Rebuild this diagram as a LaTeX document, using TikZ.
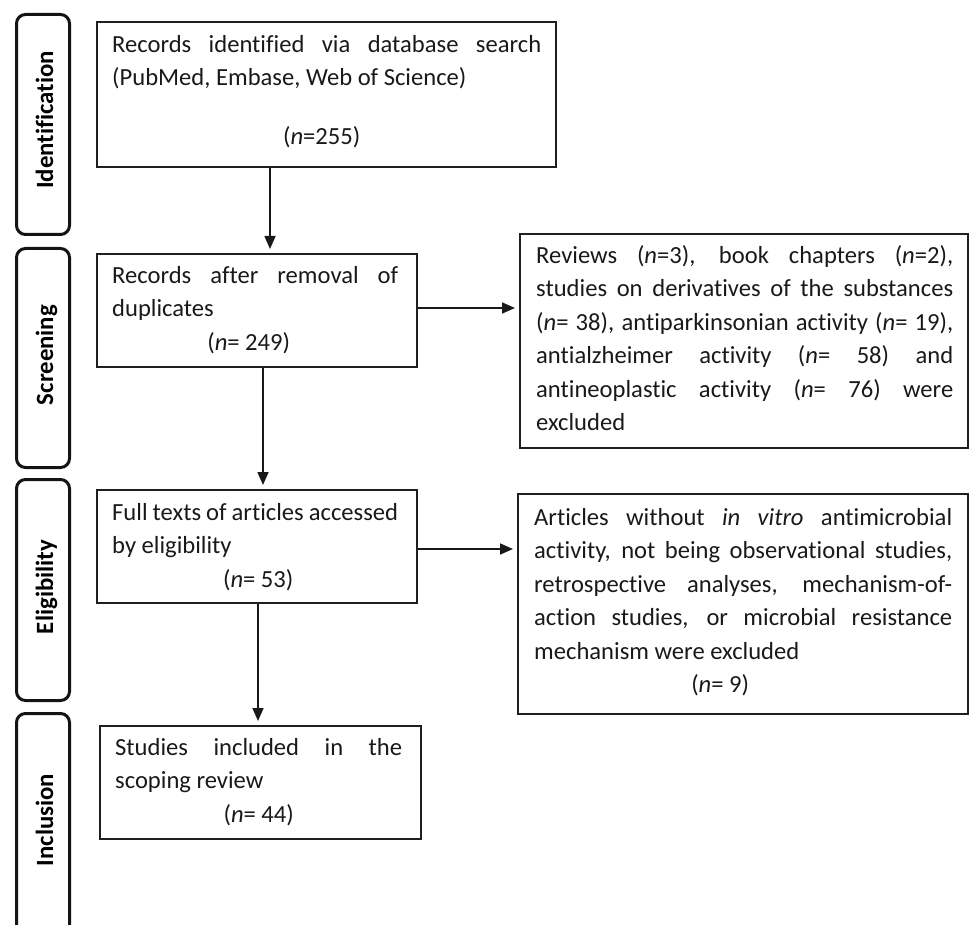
\documentclass[tikz,border=0pt]{standalone}
\usepackage{fontspec}
\setmainfont{Carlito}[Ligatures=NoCommon]
\usetikzlibrary{arrows.meta}
\setlength\parindent{0pt}
\newcommand\nsp{\spaceskip=0pt\xspaceskip=0pt\relax}
\newcommand\jl[2]{\makebox[#1][s]{\spaceskip=0pt\xspaceskip=0pt\relax #2}}
\begin{document}
\begin{tikzpicture}[x=1pt,y=-1pt,
  box/.style={draw=black!88, line width=1.8pt, inner sep=0pt, anchor=north west},
  phase/.style={draw=black!92, line width=3pt, rounded corners=9pt, inner sep=0pt, anchor=north west},
  phaselabel/.style={rotate=90, anchor=base, inner sep=0pt, font=\fontsize{24.8}{30}\selectfont\bfseries},
  txt/.style={anchor=north west, inner sep=0pt, align=left, text=black!90, font=\fontsize{24.6}{33.5}\selectfont},
  arr/.style={draw=black!90, line width=1.6pt, -{Triangle[length=13pt,width=11pt]}, shorten >=4pt},
]
\useasboundingbox (0,0) rectangle (970,925);

% phase boxes
\node[phase, minimum width=53pt, minimum height=220pt] (p1) at (15,13) {};
\node[phase, minimum width=53pt, minimum height=219pt] (p2) at (15,247) {};
\node[phase, minimum width=53pt, minimum height=221pt] (p3) at (15,478) {};
\node[phase, minimum width=53pt, minimum height=260pt] (p4) at (15,712) {};
\node[phaselabel] (l1) at (53,120) {Identification};
\node[phaselabel] (l2) at (53,355) {Screening};
\node[phaselabel] (l3) at (53,587) {Eligibility};
\node[phaselabel] (l4) at (53,820) {Inclusion};

% main boxes
\node[box, minimum width=459pt, minimum height=145pt] (b1) at (96,21) {};
\node[box, minimum width=320pt, minimum height=113pt] (b2) at (96,253) {};
\node[box, minimum width=320pt, minimum height=113pt] (b3) at (96,489) {};
\node[box, minimum width=321pt, minimum height=113pt] (b4) at (99,725) {};
\node[box, minimum width=448pt, minimum height=214pt] (r1) at (519,233) {};
\node[box, minimum width=450pt, minimum height=220pt] (r2) at (517,493) {};

% texts
\node[txt, text width=429pt] (t1) at (112,28.5) {\nsp\strut\jl{429pt}{Records identified via database search}\\
(PubMed, Embase, Web of Science)\\[25.5pt]
\makebox[429pt]{(\textit{n}=255)\hspace*{10pt}}};

\node[txt, text width=286pt] (t2) at (112,259.5) {\nsp\strut\jl{286pt}{Records after removal of}\\
duplicates\\
\makebox[286pt]{\hspace*{-13pt}(\textit{n}= 249)}};

\node[txt, text width=286pt] (t3) at (112,496.5) {\nsp\strut\jl{286pt}{Full texts of articles accessed}\\
by eligibility\\
\makebox[286pt]{\hspace*{6pt}(\textit{n}= 53)}};

\node[txt, text width=287pt] (t4) at (115,731.5) {\nsp\strut\jl{287pt}{Studies included in the}\\
scoping review\\
\makebox[287pt]{(\textit{n}= 44)}};

\node[txt, text width=417pt] (t5) at (536,239.5) {\nsp\strut\jl{417pt}{Reviews (\textit{n}=3), book chapters (\textit{n}=2),}\\
\jl{417pt}{studies on derivatives of the substances}\\
\jl{417pt}{(\textit{n}= 38), antiparkinsonian activity (\textit{n}= 19),}\\
\jl{417pt}{antialzheimer activity (\textit{n}= 58) and}\\
\jl{417pt}{antineoplastic activity (\textit{n}= 76) were}\\
excluded};

\node[txt, text width=418pt] (t6) at (534,501.5) {\nsp\strut\jl{418pt}{Articles without \textit{in vitro} antimicrobial}\\
\jl{418pt}{activity, not being observational studies,}\\
\jl{418pt}{retrospective analyses, mechanism-of-}\\
\jl{418pt}{action studies, or microbial resistance}\\
mechanism were excluded\\
\makebox[418pt]{\hspace*{-46pt}(\textit{n}= 9)}};

% connectors
\coordinate (c1) at (270,0);
\coordinate (c2) at (263,0);
\coordinate (c3) at (258,0);
\coordinate (c4) at (0,308);
\coordinate (c5) at (0,549);
\draw[arr] (b1.south -| c1) -- (b2.north -| c1);
\draw[arr] (b2.south -| c2) -- (b3.north -| c2);
\draw[arr] (b3.south -| c3) -- (b4.north -| c3);
\draw[arr] (b2.east |- c4) -- (r1.west |- c4);
\draw[arr] (b3.east |- c5) -- (r2.west |- c5);
\end{tikzpicture}
\end{document}
